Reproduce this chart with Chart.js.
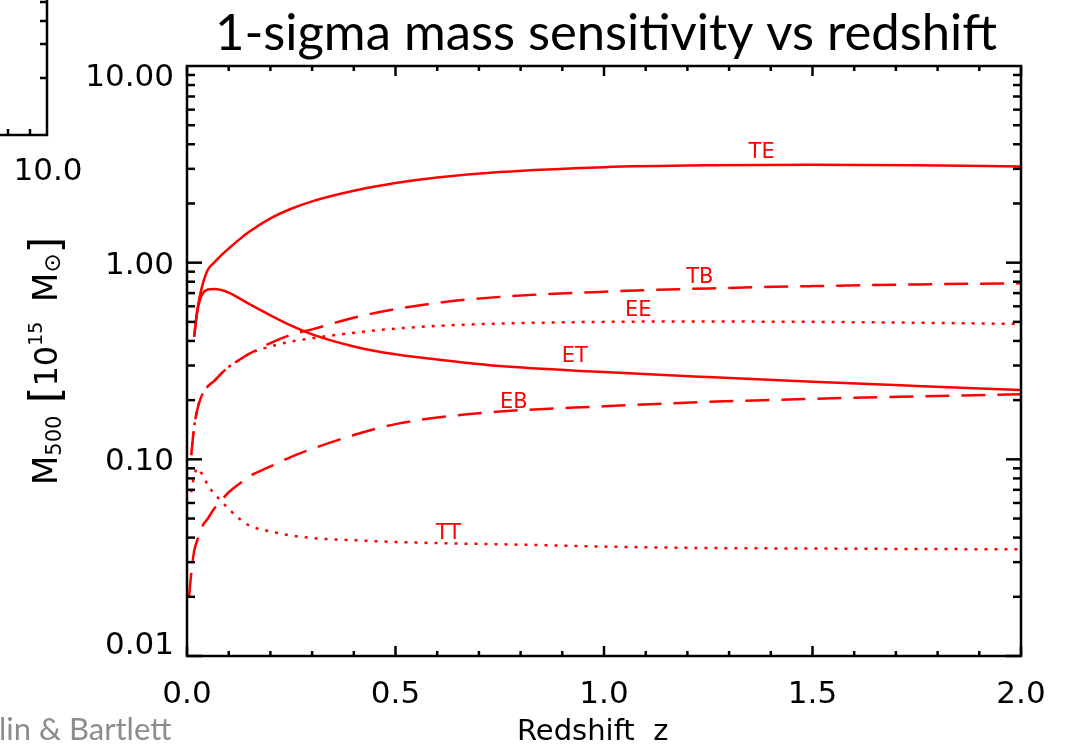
<!DOCTYPE html>
<html>
<head>
<meta charset="utf-8">
<script src="https://cdn.jsdelivr.net/npm/chart.js@4"></script>
<style>
  html, body { margin: 0; padding: 0; background: #fff; }
  canvas { display: block; }
</style>
</head>
<body>
<canvas id="chart" width="1068" height="751"></canvas>
<script>
// redshift grid shared by all curves
const z = [0.005, 0.01, 0.017, 0.025, 0.035, 0.05, 0.065, 0.08, 0.1, 0.125, 0.15, 0.2, 0.25, 0.3,
  0.4, 0.5, 0.6, 0.75, 1.0, 1.25, 1.5, 1.75, 2.0];

// 1-sigma mass, units of 1e15 Msun (null = curve not started yet)
const teM = [null, null, 0.42, 0.58, 0.74, 0.92, 1.00, 1.08, 1.18, 1.31, 1.44, 1.68, 1.88, 2.05,
  2.32, 2.54, 2.71, 2.89, 3.06, 3.13, 3.15, 3.13, 3.08];
const etM = [null, null, 0.42, 0.57, 0.68, 0.73, 0.735, 0.728, 0.705, 0.66, 0.615, 0.54, 0.478, 0.432,
  0.375, 0.342, 0.322, 0.298, 0.278, 0.262, 0.248, 0.236, 0.225];
const tbM = [null, 0.105, 0.145, 0.18, 0.21, 0.235, 0.25, 0.27, 0.295, 0.32, 0.345, 0.39, 0.43, 0.458,
  0.525, 0.58, 0.625, 0.67, 0.712, 0.74, 0.76, 0.775, 0.785];
const eeM = [null, 0.105, 0.145, 0.18, 0.21, 0.235, 0.25, 0.27, 0.295, 0.32, 0.345, 0.375, 0.397, 0.413,
  0.44, 0.462, 0.477, 0.49, 0.50, 0.502, 0.50, 0.495, 0.488];
const ebM = [0.02, 0.026, 0.034, 0.039, 0.045, 0.050, 0.056, 0.061, 0.068, 0.075, 0.082, 0.092, 0.103, 0.113,
  0.133, 0.151, 0.163, 0.175, 0.186, 0.196, 0.203, 0.209, 0.214];
const ttM = [null, 0.068, 0.082, 0.09, 0.085, 0.074, 0.067, 0.062, 0.056, 0.05, 0.046, 0.043, 0.041, 0.0398,
  0.0388, 0.038, 0.0375, 0.037, 0.036, 0.0354, 0.0352, 0.035, 0.0349];

// curve labels and where they sit (data units)
const curveNames = ['TE', 'TB', 'EE', 'ET', 'EB', 'TT'];
const labelZ = [1.378, 1.23, 1.082, 0.93, 0.784, 0.627];
const labelM = [3.61, 0.845, 0.574, 0.333, 0.1935, 0.042];

const xTickVals = [0, 0.5, 1.0, 1.5, 2.0];
const xTickLabels = ['0.0', '0.5', '1.0', '1.5', '2.0'];
const yTickVals = [0.01, 0.1, 1, 10];
const yTickLabels = ['0.01', '0.10', '1.00', '10.00'];

const RED = '#ff0000';
const HFONT = '"DejaVu Sans", sans-serif';

function pts(arr) {
  return z.map((v, i) => ({ x: v, y: arr[i] }));
}

function line(ctx, x1, y1, x2, y2) {
  ctx.beginPath();
  ctx.moveTo(x1, y1);
  ctx.lineTo(x2, y2);
  ctx.stroke();
}

const solid = [];
const dashed = [24, 12];
const dotted = [3, 7];

const frame = {
  id: 'frame',
  afterDraw(chart) {
    const { ctx, chartArea: a, scales: { x, y } } = chart;
    ctx.save();
    ctx.strokeStyle = '#000';
    ctx.fillStyle = '#000';
    ctx.lineWidth = 2.5;
    ctx.strokeRect(a.left, a.top, a.right - a.left, a.bottom - a.top);

    // x ticks, inward on bottom and top
    for (let i = 0; i <= 20; i++) {
      const px = x.getPixelForValue(i / 10);
      const len = i % 5 === 0 ? 10 : 5;
      line(ctx, px, a.bottom, px, a.bottom - len);
      line(ctx, px, a.top, px, a.top + len);
    }
    // y ticks, log decades with minors
    for (let k = -2; k <= 0; k++) {
      for (let m = 1; m <= 9; m++) {
        const py = y.getPixelForValue(m * Math.pow(10, k));
        const len = m === 1 ? 15 : 8;
        line(ctx, a.left, py, a.left + len, py);
        line(ctx, a.right, py, a.right - len, py);
      }
    }

    // tick labels
    ctx.font = '31px ' + HFONT;
    ctx.textAlign = 'center';
    ctx.textBaseline = 'middle';
    xTickVals.forEach((v, i) => ctx.fillText(xTickLabels[i], x.getPixelForValue(v), 695));
    ctx.textAlign = 'right';
    yTickVals.forEach((v, i) => {
      const py = Math.min(646, Math.max(78, y.getPixelForValue(v) + 3));
      ctx.fillText(yTickLabels[i], 174, py);
    });

    // x title
    ctx.font = '29px ' + HFONT;
    ctx.textAlign = 'left';
    ctx.textBaseline = 'alphabetic';
    ctx.fillText('Redshift  z', 517, 740);

    // y title, rotated, built from pieces
    const parts = [
      { t: 'M', s: 34, dy: 0 },
      { t: '500', s: 21, dy: 4 },
      { t: '  ', s: 20, dy: 0 },
      { t: '[', s: 42, dy: 3 },
      { t: '10', s: 32, dy: 0 },
      { t: '15', s: 19, dy: -15 },
      { t: '  ', s: 31, dy: 0 },
      { t: 'M', s: 34, dy: 0 },
      { t: '\u2299', s: 23, dy: 3 },
      { t: ']', s: 42, dy: 3 }
    ];
    let total = 0;
    parts.forEach(p => { ctx.font = p.s + 'px ' + HFONT; total += ctx.measureText(p.t).width; });
    ctx.translate(57, (a.top + a.bottom) / 2);
    ctx.rotate(-Math.PI / 2);
    ctx.textAlign = 'left';
    let cx = -total / 2;
    parts.forEach(p => {
      ctx.font = p.s + 'px ' + HFONT;
      ctx.fillText(p.t, cx, p.dy);
      cx += ctx.measureText(p.t).width;
    });
    ctx.setTransform(1, 0, 0, 1, 0, 0);

    // curve labels
    ctx.fillStyle = RED;
    ctx.font = '21px ' + HFONT;
    ctx.textAlign = 'center';
    ctx.textBaseline = 'middle';
    curveNames.forEach((n, i) => {
      ctx.fillText(n, x.getPixelForValue(labelZ[i]), y.getPixelForValue(labelM[i]));
    });

    // title
    ctx.fillStyle = '#000';
    ctx.font = '46px Lato, "Open Sans", sans-serif';
    ctx.textAlign = 'center';
    ctx.textBaseline = 'alphabetic';
    const title = '1-sigma mass sensitivity vs redshift';
    const tw = ctx.measureText(title).width;
    const ts = 46 * 782 / tw;
    ctx.font = ts.toFixed(1) + 'px Lato, "Open Sans", sans-serif';
    ctx.fillText(title, 606, 50);

    // slide leftovers: credit text and a neighbouring plot's corner
    ctx.fillStyle = '#8c8c8c';
    ctx.font = '31px Lato, "Open Sans", sans-serif';
    ctx.textAlign = 'left';
    ctx.fillText('lin & Bartlett', -1, 740);

    ctx.strokeStyle = '#000';
    ctx.fillStyle = '#000';
    ctx.lineWidth = 2.5;
    ctx.beginPath();
    ctx.moveTo(47, 0);
    ctx.lineTo(47, 135);
    ctx.lineTo(0, 135);
    ctx.stroke();
    [2, 21, 44].forEach(v => line(ctx, 47, v, 40, v));
    line(ctx, 47, 78, 40, 78);
    [8, 30].forEach(v => line(ctx, v, 135, v, 129));
    ctx.font = '31px ' + HFONT;
    ctx.textAlign = 'center';
    ctx.textBaseline = 'middle';
    ctx.fillText('10.0', 48, 172);
    ctx.restore();
  }
};

function ds(label, arr, dash) {
  return {
    label,
    data: pts(arr),
    borderColor: RED,
    borderWidth: 2.5,
    borderDash: dash,
    pointRadius: 0,
    fill: false,
    cubicInterpolationMode: 'monotone',
    spanGaps: false
  };
}

new Chart(document.getElementById('chart'), {
  type: 'line',
  data: {
    datasets: [
      ds('TE', teM, solid),
      ds('ET', etM, solid),
      ds('TB', tbM, dashed),
      ds('EB', ebM, dashed),
      ds('EE', eeM, dotted),
      ds('TT', ttM, dotted)
    ]
  },
  options: {
    responsive: false,
    devicePixelRatio: 1,
    animation: false,
    layout: { padding: { left: 187, top: 66, right: 47, bottom: 95 } },
    scales: {
      x: { type: 'linear', min: 0, max: 2, display: false },
      y: { type: 'logarithmic', min: 0.01, max: 10, display: false }
    },
    plugins: {
      legend: { display: false },
      tooltip: { enabled: false }
    }
  },
  plugins: [frame]
});
</script>
</body>
</html>
